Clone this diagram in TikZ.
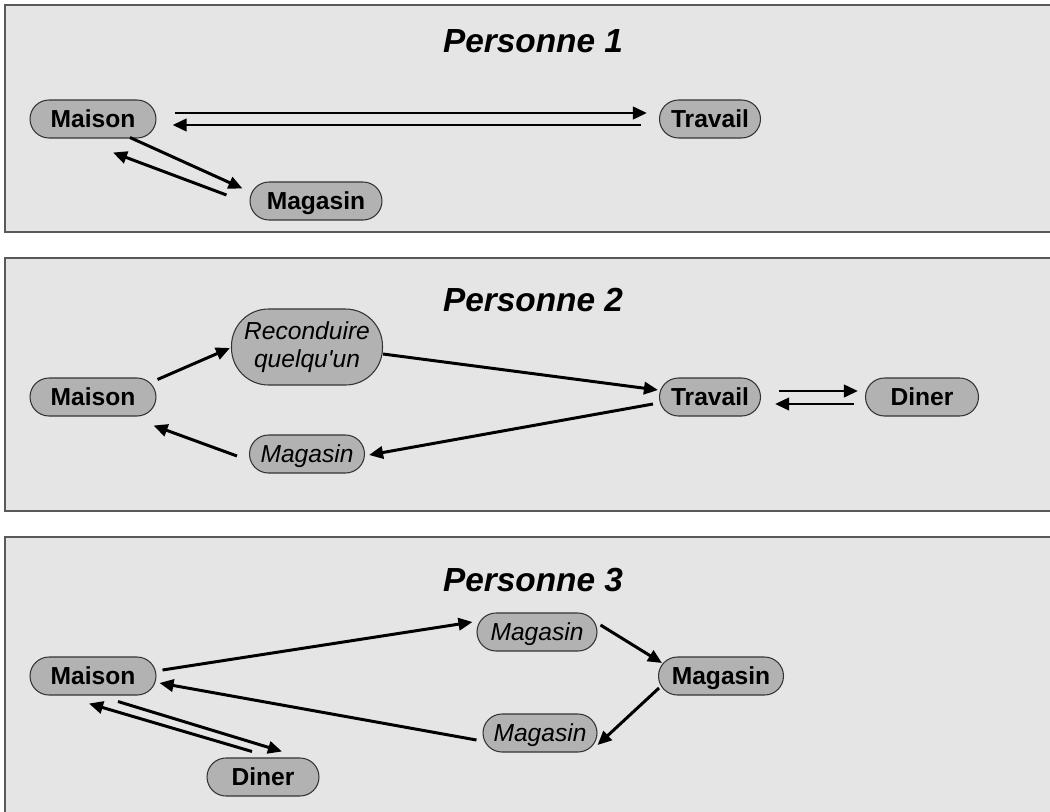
\documentclass[tikz,border=0pt]{standalone}
\usepackage{fontspec}
\setmainfont{Liberation Sans}
\usetikzlibrary{arrows.meta}

\begin{document}
\begin{tikzpicture}[x=0.02cm,y=-0.02cm,
  cadre/.style={draw=black!65,line width=1pt,fill=black!10},
  titre/.style={font=\fontsize{19}{22}\selectfont\bfseries\itshape},
  pill/.style={draw=black!80,line width=0.6pt,fill=black!30,rounded corners=0.38cm,minimum height=0.76cm,inner sep=0pt},
  lieu/.style={pill,font=\fontsize{14}{16}\selectfont\bfseries,text height=10pt,text depth=0pt},
  arret/.style={pill,font=\fontsize{14}{16}\selectfont\itshape,text height=10pt,text depth=0pt},
  fleche/.style={line width=1.7pt,-{Triangle[length=8pt,width=7pt]}}]

  \clip (0,0) rectangle (1050,811);
  \foreach \haut/\bas in {5/232,258/511,537/830}
    \draw[cadre] (5,\haut) rectangle (1070,\bas);

  % Personne 1
  \node[titre] (titre1) at (533,41) {Personne 1};
  \node[lieu,minimum width=2.52cm] (maison1) at (93,119) {Maison};
  \node[lieu,minimum width=2.02cm] (travail1) at (710,119) {Travail};
  \node[lieu,minimum width=2.64cm] (magasin1) at (316,201) {Magasin};

  \draw[fleche] ([shift={(18,-6)}]maison1.east) -- ([shift={(-12,-6)}]travail1.west);
  \draw[fleche] ([shift={(-18,6)}]travail1.west) -- ([shift={(16,6)}]maison1.east);
  \draw[fleche] ([shift={(37,-1)}]maison1.south) -- ([shift={(-7,7)}]magasin1.north west);
  \draw[fleche] ([shift={(-23,-6)}]magasin1.west) -- ([shift={(20,14)}]maison1.south);

  % Personne 2
  \node[titre] (titre2) at (533,300) {Personne 2};
  \node[lieu,minimum width=2.52cm] (maison2) at (93,397) {Maison};
  \node[pill,font=\fontsize{14}{16}\selectfont\itshape,align=center,minimum width=3.02cm,
        minimum height=1.52cm,rounded corners=0.74cm] (reconduire) at (307,347)
        {Reconduire\\quelqu\textquotesingle un};
  \node[arret,minimum width=2.3cm] (magasin2) at (307,454) {Magasin};
  \node[lieu,minimum width=2.02cm] (travail2) at (710,397) {Travail};
  \node[lieu,minimum width=2.26cm] (diner2) at (922,397) {Diner};

  \draw[fleche] ([shift={(1,2)}]maison2.north east) -- ([shift={(-1,1)}]reconduire.west);
  \draw[fleche] ([shift={(0,7)}]reconduire.east) -- ([shift={(-1,-7)}]travail2.west);
  \draw[fleche] ([shift={(-6,7)}]travail2.west) -- ([shift={(4,1)}]magasin2.east);
  \draw[fleche] ([shift={(-12,2)}]magasin2.west) -- ([shift={(-3,9)}]maison2.south east);
  \draw[fleche] ([shift={(18,-6)}]travail2.east) -- ([shift={(-7,-6)}]diner2.west);
  \draw[fleche] ([shift={(-11,7)}]diner2.west) -- ([shift={(14,7)}]travail2.east);

  % Personne 3
  \node[titre] (titre3) at (533,580) {Personne 3};
  \node[lieu,minimum width=2.52cm] (maison3) at (93,676) {Maison};
  \node[arret,minimum width=2.4cm] (magasin3a) at (537,632) {Magasin};
  \node[lieu,minimum width=2.5cm] (magasin3) at (721,676) {Magasin};
  \node[arret,minimum width=2.28cm] (magasin3b) at (540,733) {Magasin};
  \node[lieu,minimum width=2.24cm] (diner3) at (263,777) {Diner};

  \draw[fleche] ([shift={(6,-6)}]maison3.east) -- ([shift={(-4,-10)}]magasin3a.west);
  \draw[fleche] ([shift={(3,-7)}]magasin3a.east) -- ([shift={(4,-13)}]magasin3.west);
  \draw[fleche] ([shift={(1,12)}]magasin3.west) -- ([shift={(0,12)}]magasin3b.east);
  \draw[fleche] ([shift={(-6,7)}]magasin3b.west) -- ([shift={(3,7)}]maison3.east);
  \draw[fleche] ([shift={(25,6)}]maison3.south) -- ([shift={(19,-6)}]diner3.north);
  \draw[fleche] ([shift={(-11,-6)}]diner3.north) -- ([shift={(-4,8)}]maison3.south);
\end{tikzpicture}
\end{document}
